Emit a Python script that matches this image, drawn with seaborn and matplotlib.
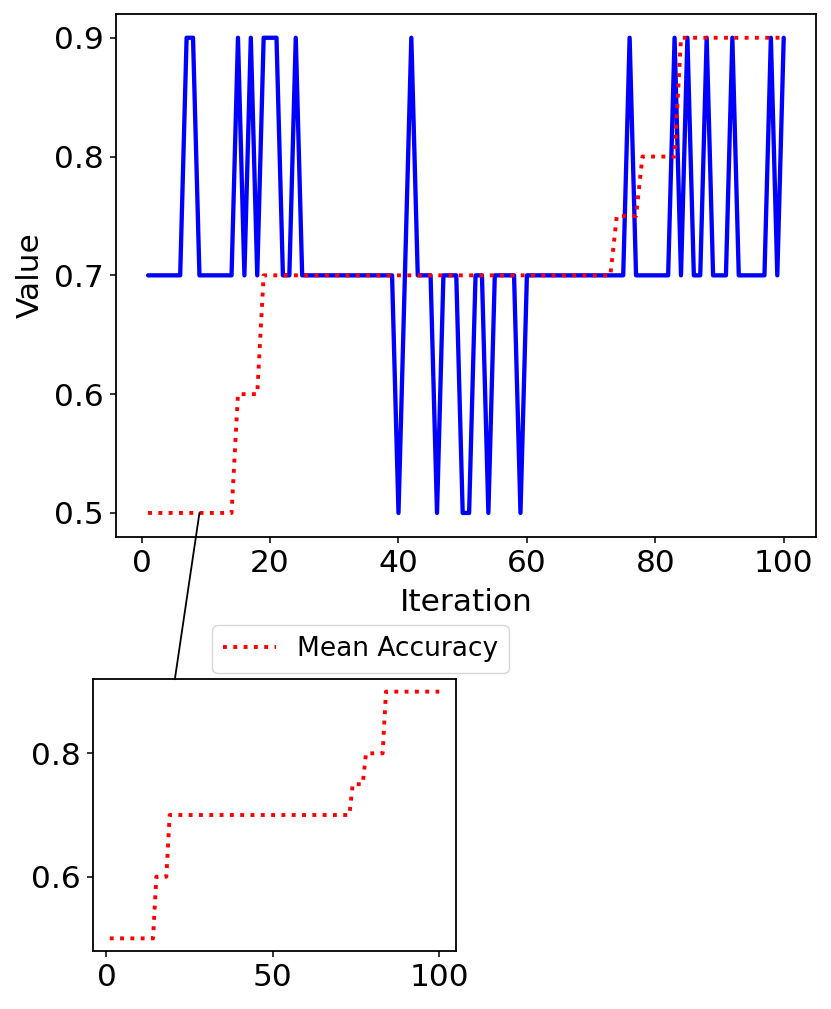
import numpy as np
import pandas as pd
import matplotlib
matplotlib.use("Agg")
import matplotlib.pyplot as plt
from matplotlib.patches import ConnectionPatch
from matplotlib.lines import Line2D
import seaborn as sns

iterations = list(range(1, 101))

value = ([0.7] * 6 + [0.9] * 2 + [0.7] * 6 + [0.9, 0.7, 0.9, 0.7] + [0.9] * 3 +
         [0.7] * 2 + [0.9] + [0.7] * 15 + [0.5, 0.7, 0.9] + [0.7] * 3 + [0.5] +
         [0.7] * 3 + [0.5] * 2 + [0.7] * 2 + [0.5] + [0.7] * 4 + [0.5] +
         [0.7] * 16 + [0.9] + [0.7] * 6 + [0.9, 0.7, 0.9, 0.7, 0.7, 0.9] +
         [0.7] * 3 + [0.9] + [0.7] * 5 + [0.9, 0.7, 0.9])

mean_accuracy = ([0.5] * 14 + [0.6] * 4 + [0.7] * 55 + [0.75] * 4 +
                 [0.8] * 6 + [0.9] * 17)

df = pd.DataFrame({"Iteration": iterations, "Value": value,
                   "Mean Accuracy": mean_accuracy})

sns.set_theme(style="ticks")
plt.rcParams.update({
    "font.family": ["DejaVu Sans"],
    "axes.edgecolor": "black",
    "axes.linewidth": 1.3,
    "xtick.color": "black",
    "ytick.color": "black",
    "xtick.major.size": 4.3,
    "ytick.major.size": 4.3,
    "xtick.major.width": 1.1,
    "ytick.major.width": 1.1,
    "text.color": "black",
    "axes.labelcolor": "black",
})

W, H = 831, 1009
fig = plt.figure(figsize=(W / 100, H / 100), dpi=100)

ax = fig.add_axes([116.3 / W, 1 - 536.7 / H, (815.5 - 116.3) / W, (536.7 - 14) / H])
sns.lineplot(data=df, x="Iteration", y="Value", ax=ax, color="blue",
             linewidth=3.1, legend=False)
sns.lineplot(data=df, x="Iteration", y="Mean Accuracy", ax=ax, color="red",
             linewidth=2.8, linestyle=":", legend=False)
ax.set_yticks([0.5, 0.6, 0.7, 0.8, 0.9])
ax.set_xticks([0, 20, 40, 60, 80, 100])
ax.tick_params(labelsize=22.5, pad=4.5)
ax.set_xlabel("Iteration", fontsize=22.5, labelpad=7)
ax.set_ylabel("Value", fontsize=22.5, labelpad=7)

axin = fig.add_axes([93.3 / W, 1 - 950.7 / H, (455.7 - 93.3) / W, (950.7 - 679.3) / H])
sns.lineplot(data=df, x="Iteration", y="Mean Accuracy", ax=axin, color="red",
             linewidth=2.8, linestyle=":", legend=False)
axin.set_xlabel("")
axin.set_ylabel("")
axin.set_xticks([0, 50, 100])
axin.set_yticks([0.6, 0.8])
axin.tick_params(labelsize=22.5, pad=4.5)

con = ConnectionPatch(xyA=(9, 0.5), coordsA=ax.transData,
                      xyB=(0.225, 1.0), coordsB=axin.transAxes,
                      color="black", linewidth=1.3)
fig.add_artist(con)

handle = Line2D([], [], color="red", linewidth=2.8, linestyle=":")
fig.legend([handle], ["Mean Accuracy"], loc="center",
           bbox_to_anchor=(360.5 / W, 1 - 649 / H), fontsize=19,
           frameon=True, fancybox=True, edgecolor="0.8", framealpha=0.8)

fig.savefig("out.png", dpi=100)
